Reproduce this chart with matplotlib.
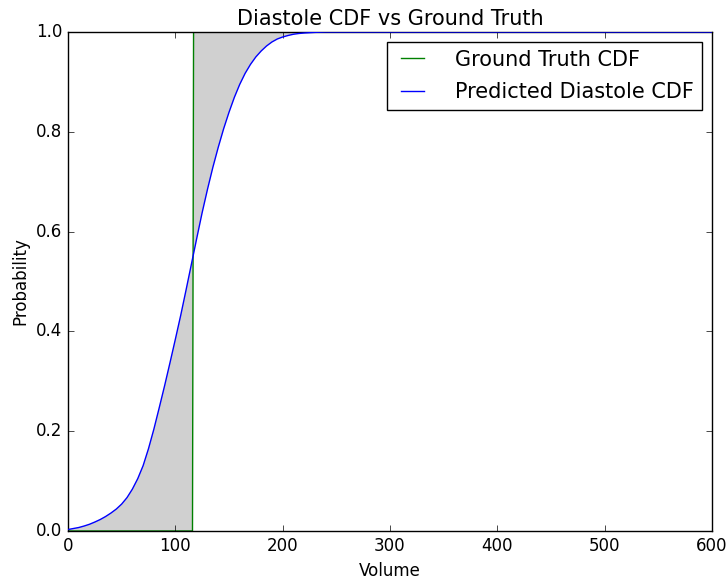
import numpy as np
import matplotlib
matplotlib.use("Agg")
import matplotlib.pyplot as plt

plt.style.use("classic")

# Ground truth CDF (step at the true volume)
gt_x = [0, 116, 117, 600]
gt_y = [0.0, 0.0, 1.0, 1.0]

# Predicted diastole CDF
pred_x = [0, 5, 10, 15, 20, 25, 30, 35, 40, 45, 50, 55, 60, 65, 70, 75, 80,
          85, 90, 95, 100, 105, 110, 115, 120, 125, 130, 135, 140, 145, 150,
          155, 160, 165, 170, 175, 180, 185, 190, 195, 200, 205, 210, 215,
          220, 230, 240, 300, 400, 500, 600]
pred_y = [0.003, 0.005, 0.007, 0.010, 0.0135, 0.018, 0.023, 0.029, 0.036,
          0.044, 0.054, 0.067, 0.084, 0.105, 0.131, 0.165, 0.204, 0.247,
          0.291, 0.337, 0.384, 0.432, 0.483, 0.535, 0.587, 0.638, 0.685,
          0.729, 0.769, 0.806, 0.839, 0.869, 0.895, 0.917, 0.935, 0.950,
          0.962, 0.972, 0.980, 0.986, 0.990, 0.993, 0.9955, 0.997, 0.998,
          0.9993, 1.0, 1.0, 1.0, 1.0, 1.0]

fig = plt.figure(figsize=(7.27, 5.82), dpi=100, facecolor="white")
ax = fig.add_axes([0.0935, 0.0876, 0.8859, 0.8574])

poly_x = list(pred_x) + list(gt_x[::-1])
poly_y = list(pred_y) + list(gt_y[::-1])
ax.fill(poly_x, poly_y, color="#d0d0d0", linewidth=0, zorder=1)

ax.plot(gt_x, gt_y, color=(0, 0.5, 0), linewidth=1, label="Ground Truth CDF", zorder=2)
ax.plot(pred_x, pred_y, color=(0, 0, 1), linewidth=1, label="Predicted Diastole CDF", zorder=3)

ax.set_xlim(0, 600)
ax.set_ylim(0, 1)
ax.set_xticks([0, 100, 200, 300, 400, 500, 600])
ax.set_yticks([0.0, 0.2, 0.4, 0.6, 0.8, 1.0])
ax.tick_params(labelsize=12)
ax.set_title("Diastole CDF vs Ground Truth", fontsize=15)
ax.set_xlabel("Volume", fontsize=12)
ax.set_ylabel("Probability", fontsize=12)
leg = ax.legend(loc="upper right", fontsize=15, fancybox=False, framealpha=1,
                handlelength=1.72, handletextpad=1.2, labelspacing=0.6,
                borderpad=0.35)
leg.get_frame().set_edgecolor("black")

fig.savefig("out.png", dpi=100, facecolor="white")
